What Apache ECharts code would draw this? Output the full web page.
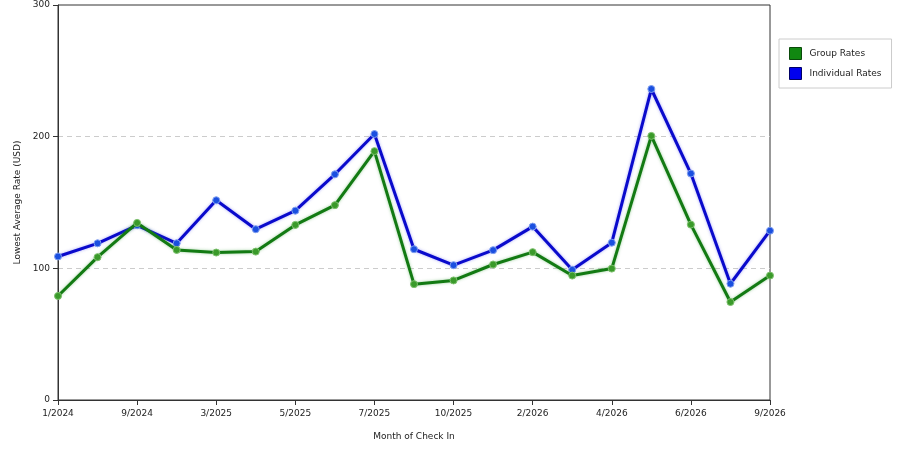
<!DOCTYPE html>
<html>
<head>
<meta charset="utf-8">
<script src="https://cdn.jsdelivr.net/npm/echarts@6/dist/echarts.min.js"></script>
<style>
    html, body { margin: 0; padding: 0; background: #fff; }
    #main { width: 900px; height: 450px; }
</style>
</head>
<body>
<div id="main"></div>
<script>
// month of check in (only every other one is labelled on the axis)
var months = ['1/2024', '5/2024', '9/2024', '1/2025', '3/2025', '4/2025', '5/2025', '6/2025', '7/2025', '9/2025',
    '10/2025', '12/2025', '2/2026', '3/2026', '4/2026', '5/2026', '6/2026', '8/2026', '9/2026'];
var groupRates = [79, 108.5, 134.5, 114, 112, 112.7, 133, 148, 189, 88,
    90.8, 102.9, 112.3, 94.5, 99.8, 200.6, 133.2, 74.4, 94.5];
var individualRates = [109, 119, 132.7, 119, 151.7, 129.7, 143.8, 171.4, 202, 114.5,
    102.4, 113.8, 131.7, 98.9, 119.5, 236.2, 172, 88.3, 128.6];
var yTicks = [0, 100, 200, 300];

var font = 'DejaVu Sans';
var myChart = echarts.init(document.getElementById('main'));

var option = {
    animation: false,
    backgroundColor: '#fff',
    textStyle: { fontFamily: font },
    grid: {
        left: 58,
        right: 130,
        top: 5,
        bottom: 50,
        show: true,
        borderColor: '#333',
        borderWidth: 1
    },
    legend: {
        orient: 'vertical',
        left: 779,
        top: 39,
        padding: [8, 10, 8, 10],
        itemGap: 7,
        itemWidth: 12,
        itemHeight: 12,
        borderColor: '#ccc',
        borderWidth: 1,
        backgroundColor: '#fff',
        width: 90,
        textStyle: { fontSize: 9, color: '#222', fontFamily: font, padding: [0, 0, 0, 3] },
        data: [
            { name: 'Group Rates', icon: 'rect', itemStyle: { color: '#118811', borderColor: '#0a4a0a', borderWidth: 1 } },
            { name: 'Individual Rates', icon: 'rect', itemStyle: { color: '#0000ee', borderColor: '#000066', borderWidth: 1 } }
        ]
    },
    xAxis: {
        type: 'category',
        boundaryGap: false,
        data: months,
        name: 'Month of Check In',
        nameLocation: 'middle',
        nameGap: 32,
        nameTextStyle: { fontSize: 9, color: '#222' },
        axisLine: { lineStyle: { color: '#333' } },
        axisTick: { interval: 1, length: 5, lineStyle: { color: '#333' } },
        axisLabel: { interval: 1, fontSize: 9, color: '#222', margin: 9 },
        splitLine: { show: false }
    },
    yAxis: {
        type: 'value',
        min: yTicks[0],
        max: yTicks[yTicks.length - 1],
        interval: 100,
        name: 'Lowest Average Rate (USD)',
        nameLocation: 'middle',
        nameGap: 36,
        nameTextStyle: { fontSize: 9, color: '#222' },
        axisLine: { show: true, lineStyle: { color: '#333' } },
        axisTick: { show: true, length: 5, lineStyle: { color: '#333' } },
        axisLabel: { fontSize: 9, color: '#222', margin: 8 },
        splitLine: { show: true, showMinLine: false, showMaxLine: false, lineStyle: { color: '#ccc', type: [5, 4] } }
    },
    series: [
        {
            name: 'Group Rates',
            type: 'line',
            data: groupRates,
            symbol: 'circle',
            symbolSize: 7,
            lineStyle: { width: 3, color: '#137a13', shadowColor: 'rgba(60,160,60,0.5)', shadowBlur: 3 },
            itemStyle: { color: '#3a9a2a', borderColor: '#7cc06c', borderWidth: 1 },
            z: 3
        },
        {
            name: 'Individual Rates',
            type: 'line',
            data: individualRates,
            symbol: 'circle',
            symbolSize: 7,
            lineStyle: { width: 3, color: '#0a0acc', shadowColor: 'rgba(80,80,240,0.5)', shadowBlur: 3 },
            itemStyle: { color: '#1a4fe0', borderColor: '#7f9ff0', borderWidth: 1 },
            z: 2
        }
    ]
};
myChart.setOption(option);
</script>
</body>
</html>
